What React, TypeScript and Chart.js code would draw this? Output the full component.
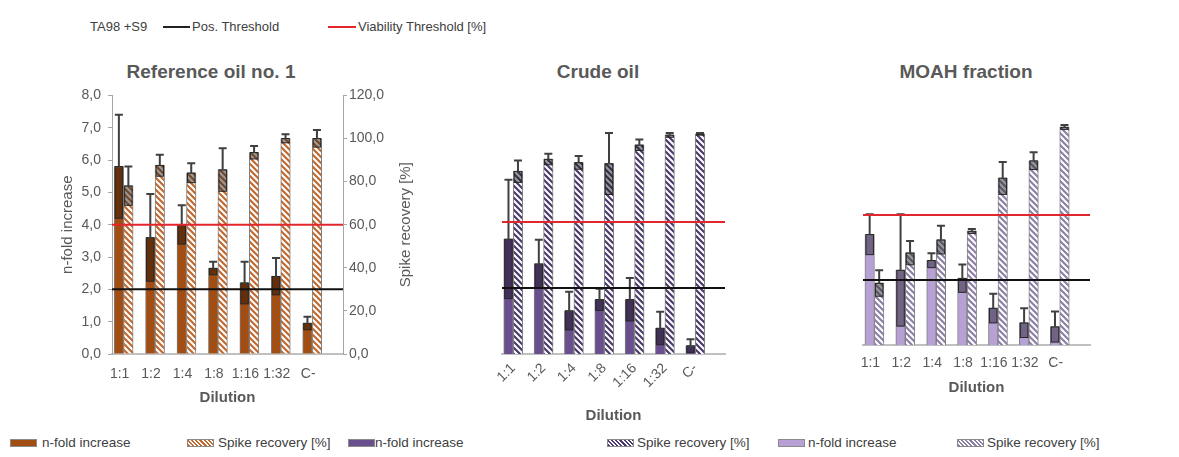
import React, { useEffect, useRef } from 'react';
import { Chart, registerables } from 'chart.js';

Chart.register(...registerables);

const FONT = '"Liberation Sans", Arial, Helvetica, sans-serif';
Chart.defaults.font.family = FONT;

// ---------- data ----------
const categories = ['1:1', '1:2', '1:4', '1:8', '1:16', '1:32', 'C-'];
const leftTickLabels = ['0,0', '1,0', '2,0', '3,0', '4,0', '5,0', '6,0', '7,0', '8,0'];
const rightTickLabels = ['0,0', '20,0', '40,0', '60,0', '80,0', '100,0', '120,0'];

const refNfold = [5.8, 3.6, 4.0, 2.65, 2.2, 2.4, 0.95];
const refNfoldErr = [1.6, 1.35, 0.6, 0.2, 0.65, 0.57, 0.2];
const refSpike = [78, 87.5, 84, 85.5, 93.5, 100, 100];
const refSpikeErr = [9, 5, 4.5, 10, 3, 2, 4];

const crudeNfold = [3.48, 2.73, 1.31, 1.65, 1.65, 0.78, 0.25];
const crudeNfoldErr = [1.8, 0.73, 0.58, 0.33, 0.65, 0.5, 0.2];
const crudeSpike = [83, 88.5, 87, 86.5, 95, 99.5, 100];
const crudeSpikeErr = [5, 2.5, 3, 14, 2.5, 1, 0.5];

const moahNfold = [3.4, 2.3, 2.6, 2.05, 1.13, 0.68, 0.56];
const moahNfoldErr = [0.62, 1.72, 0.22, 0.43, 0.45, 0.45, 0.47];
const moahSpike = [28.5, 42.5, 48.5, 52.5, 77, 85, 100.5];
const moahSpikeErr = [6, 5.5, 6.5, 1, 7.5, 4, 1];

const posThreshold = 2;
const viabilityThreshold = 60;

const leftAxisTitle = 'n-fold increase';
const rightAxisTitle = 'Spike recovery [%]';

const X_MIN = 0.63;
const X_MAX = 7.98;
const TEXT = '#595959';

// ---------- helpers ----------
function makeHatch(fg: string) {
  const c = document.createElement('canvas');
  c.width = 6;
  c.height = 6;
  const g = c.getContext('2d')!;
  g.fillStyle = '#ffffff';
  g.fillRect(0, 0, 6, 6);
  g.strokeStyle = fg;
  g.lineWidth = 2.2;
  g.beginPath();
  g.moveTo(-3, 3); g.lineTo(3, 9);
  g.moveTo(0, 0); g.lineTo(6, 6);
  g.moveTo(3, -3); g.lineTo(9, 3);
  g.stroke();
  return g.createPattern(c, 'repeat');
}

const errorBarPlugin = {
  id: 'errorBars',
  afterDatasetDraw(chart: any, args: any) {
    const ds = chart.data.datasets[args.index];
    const errs: number[] | undefined = ds.errorBars;
    if (!errs) return;
    const meta = args.meta;
    const yScale = chart.scales[meta.yAxisID];
    const ctx = chart.ctx;
    ctx.save();
    meta.data.forEach((bar: any, i: number) => {
      const v = ds.data[i].y;
      const e = errs[i];
      const p = bar.getProps(['x', 'y', 'base', 'width'], true);
      const yHi = yScale.getPixelForValue(v + e);
      const yLo = Math.min(yScale.getPixelForValue(v - e), p.base);
      const bw = p.width - 2;
      ctx.fillStyle = ds.bandColor;
      ctx.fillRect(p.x - bw / 2, p.y, bw, yLo - p.y);
      ctx.strokeStyle = '#262626';
      ctx.lineWidth = 1;
      ctx.strokeRect(p.x - bw / 2, p.y, bw, yLo - p.y);
      ctx.strokeStyle = '#404040';
      ctx.lineWidth = 2;
      ctx.beginPath();
      ctx.moveTo(p.x, p.y);
      ctx.lineTo(p.x, yHi);
      ctx.moveTo(p.x - 4, yHi);
      ctx.lineTo(p.x + 4, yHi);
      ctx.stroke();
    });
    ctx.restore();
  },
};

// secondary-axis title, rotated like the primary one (reads bottom to top)
const rightTitlePlugin = {
  id: 'rightTitle',
  afterDraw(chart: any) {
    const s = chart.scales.y1;
    if (!s || !s.options.display) return;
    const ctx = chart.ctx;
    ctx.save();
    ctx.translate(s.right - 24, (s.top + s.bottom) / 2);
    ctx.rotate(-Math.PI / 2);
    ctx.fillStyle = TEXT;
    ctx.font = `15px ${FONT}`;
    ctx.textAlign = 'center';
    ctx.textBaseline = 'middle';
    ctx.fillText(rightAxisTitle, 0, 0);
    ctx.restore();
  },
};

interface PanelCfg {
  left: number;
  top: number;
  width: number;
  height: number;
  padding: { left: number; right: number; top: number; bottom: number };
  showY: boolean;
  rotation: number;
  xHeight: number;
  labelPad: number;
  titlePad: number;
  nfold: number[];
  nfoldErr: number[];
  spike: number[];
  spikeErr: number[];
  color: string;
  hatchFg: string;
}

const panels: PanelCfg[] = [
  {
    left: 40, top: 80, width: 390, height: 340,
    padding: { left: 0, right: 0, top: 10, bottom: 0 },
    showY: true, rotation: 0, xHeight: 66, labelPad: 12, titlePad: 13,
    nfold: refNfold, nfoldErr: refNfoldErr, spike: refSpike, spikeErr: refSpikeErr,
    color: '#a24d12', hatchFg: '#c06a30',
  },
  {
    left: 480, top: 80, width: 265, height: 350,
    padding: { left: 22, right: 20, top: 10, bottom: 0 },
    showY: false, rotation: 45, xHeight: 76, labelPad: 6, titlePad: 5,
    nfold: crudeNfold, nfoldErr: crudeNfoldErr, spike: crudeSpike, spikeErr: crudeSpikeErr,
    color: '#6a4f8f', hatchFg: '#4b3a6b',
  },
  {
    left: 840, top: 75, width: 270, height: 330,
    padding: { left: 23, right: 20, top: 10, bottom: 0 },
    showY: false, rotation: 0, xHeight: 60, labelPad: 10, titlePad: 8,
    nfold: moahNfold, nfoldErr: moahNfoldErr, spike: moahSpike, spikeErr: moahSpikeErr,
    color: '#b6a0d4', hatchFg: '#8d80a8',
  },
];

function buildConfig(cfg: PanelCfg): any {
  const hatch = makeHatch(cfg.hatchFg);
  const yLeft: any = {
    type: 'linear', position: 'left', min: 0, max: 8, display: cfg.showY,
    ticks: {
      stepSize: 1, color: TEXT, font: { size: 14 }, padding: 7,
      callback: (v: number) => leftTickLabels[Math.round(v)],
    },
    grid: { display: true, drawOnChartArea: false, drawTicks: true, tickLength: 4, color: '#a6a6a6' },
    border: { display: true, color: '#a6a6a6' },
    title: {
      display: cfg.showY, text: leftAxisTitle, color: TEXT,
      font: { size: 15 }, padding: { top: 19, bottom: 0 },
    },
  };
  const yRight: any = {
    type: 'linear', position: 'right', min: 0, max: 120, display: cfg.showY,
    ticks: {
      stepSize: 20, color: TEXT, font: { size: 14 }, padding: 2,
      callback: (v: number) => rightTickLabels[Math.round(v / 20)],
    },
    grid: { display: true, drawOnChartArea: false, drawTicks: true, tickLength: 4, color: '#a6a6a6' },
    border: { display: true, color: '#a6a6a6' },
    title: { display: false },
  };
  if (cfg.showY) {
    yLeft.afterFit = (s: any) => { s.width = 72; };
    yRight.afterFit = (s: any) => { s.width = 87; };
  }
  return {
    type: 'bar',
    data: {
      datasets: [
        {
          type: 'line', label: 'Pos. Threshold', yAxisID: 'y', order: 0,
          data: [{ x: X_MIN, y: posThreshold }, { x: X_MAX, y: posThreshold }],
          borderColor: '#111111', borderWidth: 2, pointRadius: 0,
        },
        {
          type: 'line', label: 'Viability Threshold [%]', yAxisID: 'y1', order: 0,
          data: [{ x: X_MIN, y: viabilityThreshold }, { x: X_MAX, y: viabilityThreshold }],
          borderColor: '#e3262c', borderWidth: 2, pointRadius: 0,
        },
        {
          label: 'n-fold increase', yAxisID: 'y', stack: 'a', order: 1,
          data: cfg.nfold.map((y, i) => ({ x: i + 1, y })),
          errorBars: cfg.nfoldErr, bandColor: 'rgba(0,0,0,0.38)',
          backgroundColor: cfg.color, borderColor: '#7f7f7f', borderWidth: 1,
          barThickness: 9.5,
        },
        {
          label: 'Spike recovery [%]', yAxisID: 'y1', stack: 'b', order: 1,
          data: cfg.spike.map((y, i) => ({ x: i + 1, y })),
          errorBars: cfg.spikeErr, bandColor: 'rgba(30,30,30,0.45)',
          backgroundColor: hatch, borderColor: '#7f7f7f', borderWidth: 1,
          barThickness: 9.5,
        },
      ],
    },
    options: {
      responsive: false,
      animation: false,
      devicePixelRatio: 1,
      layout: { padding: cfg.padding },
      plugins: { legend: { display: false }, tooltip: { enabled: false }, title: { display: false } },
      scales: {
        x: {
          type: 'linear', min: X_MIN, max: X_MAX, offset: false, bounds: 'data',
          afterBuildTicks: (s: any) => { s.ticks = categories.map((_, i) => ({ value: i + 1 })); },
          afterFit: (s: any) => { s.height = cfg.xHeight; },
          grid: { display: false, drawTicks: false },
          border: { display: true, color: '#c0c0c0', width: 2 },
          ticks: {
            autoSkip: false, maxRotation: cfg.rotation, minRotation: cfg.rotation,
            padding: cfg.labelPad, color: TEXT, font: { size: 14 },
            labelOffset: cfg.rotation ? 0 : -4,
            callback: (v: number) => categories[Math.round(v) - 1] ?? '',
          },
          title: {
            display: true, text: 'Dilution', color: TEXT,
            font: { size: 15, weight: 'bold' }, padding: { top: 0, bottom: cfg.titlePad },
          },
        },
        y: yLeft,
        y1: yRight,
      },
    },
    plugins: [errorBarPlugin, rightTitlePlugin],
  };
}

function Panel({ cfg }: { cfg: PanelCfg }) {
  const ref = useRef<HTMLCanvasElement>(null);
  useEffect(() => {
    const chart = new Chart(ref.current as HTMLCanvasElement, buildConfig(cfg));
    return () => chart.destroy();
  }, [cfg]);
  return (
    <canvas
      ref={ref}
      width={cfg.width}
      height={cfg.height}
      style={{ position: 'absolute', left: cfg.left, top: cfg.top, width: cfg.width, height: cfg.height }}
    />
  );
}

const titles = [
  { text: 'Reference oil no. 1', cx: 211 },
  { text: 'Crude oil', cx: 598 },
  { text: 'MOAH fraction', cx: 966 },
];

const hatchCss = (fg: string) =>
  `repeating-linear-gradient(45deg, ${fg} 0px, ${fg} 1.5px, #ffffff 1.5px, #ffffff 3px)`;

const bottomLegend = [
  { swatchLeft: 10, textLeft: 42, label: 'n-fold increase', bg: '#a24d12' },
  { swatchLeft: 187, textLeft: 218, label: 'Spike recovery [%]', bg: hatchCss('#c06a30') },
  { swatchLeft: 348, textLeft: 375, label: 'n-fold increase', bg: '#6a4f8f' },
  { swatchLeft: 607, textLeft: 637, label: 'Spike recovery [%]', bg: hatchCss('#4b3a6b') },
  { swatchLeft: 778, textLeft: 808, label: 'n-fold increase', bg: '#b6a0d4' },
  { swatchLeft: 957, textLeft: 987, label: 'Spike recovery [%]', bg: hatchCss('#8d80a8') },
];

export default function App() {
  const text: React.CSSProperties = {
    position: 'absolute', fontFamily: FONT, color: '#404040', whiteSpace: 'nowrap',
  };
  return (
    <div
      style={{
        position: 'absolute', left: 0, top: 0, width: 1179, height: 457,
        background: '#ffffff', overflow: 'hidden', fontFamily: FONT,
      }}
    >
      {/* top legend */}
      <div style={{ ...text, left: 90, top: 19, fontSize: 13, lineHeight: '16px' }}>TA98 +S9</div>
      <div style={{ position: 'absolute', left: 163, top: 26, width: 27, height: 2, background: '#222' }} />
      <div style={{ ...text, left: 192, top: 19, fontSize: 13, lineHeight: '16px' }}>Pos. Threshold</div>
      <div style={{ position: 'absolute', left: 328, top: 26, width: 28, height: 2, background: '#e3262c' }} />
      <div style={{ ...text, left: 358, top: 19, fontSize: 13, lineHeight: '16px' }}>Viability Threshold [%]</div>

      {titles.map((t) => (
        <div
          key={t.text}
          style={{
            ...text, left: t.cx - 150, width: 300, top: 60, textAlign: 'center',
            fontSize: 19, lineHeight: '23px', fontWeight: 'bold', color: TEXT,
          }}
        >
          {t.text}
        </div>
      ))}

      {panels.map((p, i) => (
        <Panel key={i} cfg={p} />
      ))}

      {bottomLegend.map((l, i) => (
        <React.Fragment key={i}>
          <div
            style={{
              position: 'absolute', left: l.swatchLeft, top: 439, width: 27, height: 8,
              background: l.bg, border: '1px solid #8a8a8a', boxSizing: 'border-box',
            }}
          />
          <div style={{ ...text, left: l.textLeft, top: 435, fontSize: 13.5, lineHeight: '16px' }}>
            {l.label}
          </div>
        </React.Fragment>
      ))}
    </div>
  );
}
